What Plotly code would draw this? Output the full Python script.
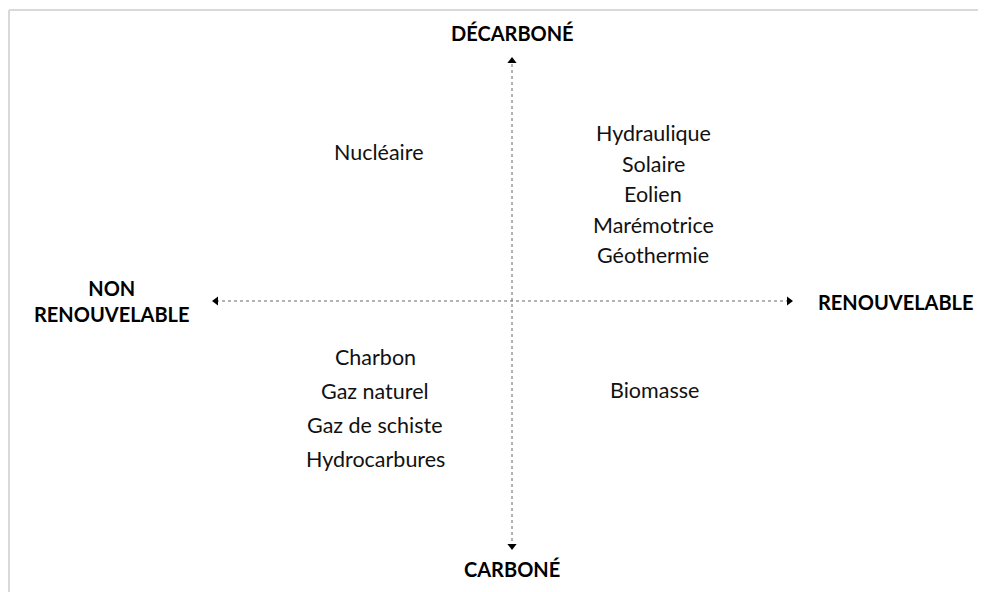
import plotly.graph_objects as go

# Quadrant contents
top_right = ['Hydraulique', 'Solaire', 'Eolien', 'Marémotrice', 'Géothermie']
top_left = ['Nucléaire']
bottom_left = ['Charbon', 'Gaz naturel', 'Gaz de schiste', 'Hydrocarbures']
bottom_right = ['Biomasse']
axis_labels = {'top': 'DÉCARBONÉ', 'bottom': 'CARBONÉ',
               'left': 'NON<br>RENOUVELABLE', 'right': 'RENOUVELABLE'}

W, H = 986, 592
OFF = 8  # page body margin
cx, cy = 512, 301
FONT = 'Lato'

fig = go.Figure()

# dotted axes
fig.add_trace(go.Scatter(x=[cx, cx], y=[64, 544], mode='lines',
                         line=dict(color='#666', width=1, dash='dot'),
                         hoverinfo='skip'))
fig.add_trace(go.Scatter(x=[216, 788], y=[cy, cy], mode='lines',
                         line=dict(color='#666', width=1, dash='dot'),
                         hoverinfo='skip'))
# arrowheads
fig.add_trace(go.Scatter(
    x=[cx, cx, 216, 789], y=[61, 546, cy, cy], mode='markers',
    marker=dict(symbol=['triangle-up', 'triangle-down', 'triangle-left', 'triangle-right'],
                size=8, color='black'),
    hoverinfo='skip'))

def add_list(items, x, y0, step):
    for i, t in enumerate(items):
        fig.add_annotation(x=x, y=y0 + i * step, text=t, showarrow=False,
                           font=dict(family=FONT, size=21.5, color='#111'))

add_list(top_left, 378, 152, 0)
add_list(top_right, 653, 133, 30.5)
add_list(bottom_left, 375, 357, 34)
add_list(bottom_right, 654, 390, 0)

bold = dict(family=FONT, size=20, color='black', weight='bold')
fig.add_annotation(x=cx, y=33, text=axis_labels['top'], showarrow=False, font=bold)
fig.add_annotation(x=cx, y=569, text=axis_labels['bottom'], showarrow=False, font=bold)
fig.add_annotation(x=896, y=302, text=axis_labels['right'], showarrow=False, font=bold)
fig.add_annotation(x=112, y=301, text=axis_labels['left'], showarrow=False, font=bold)

# frame (left and top edges only visible)
fig.add_shape(type='line', x0=9, x1=W, y0=10, y1=10, line=dict(color='#d9d9d9', width=2))
fig.add_shape(type='line', x0=9, x1=9, y0=10, y1=H, line=dict(color='#d9d9d9', width=2))

fig.update_layout(
    width=W - OFF, height=H - OFF,
    margin=dict(l=0, r=0, t=0, b=0),
    paper_bgcolor='white', plot_bgcolor='white',
    showlegend=False,
    xaxis=dict(range=[OFF, W], visible=False, fixedrange=True),
    yaxis=dict(range=[H, OFF], visible=False, fixedrange=True),
)

fig.write_html('out.html')
